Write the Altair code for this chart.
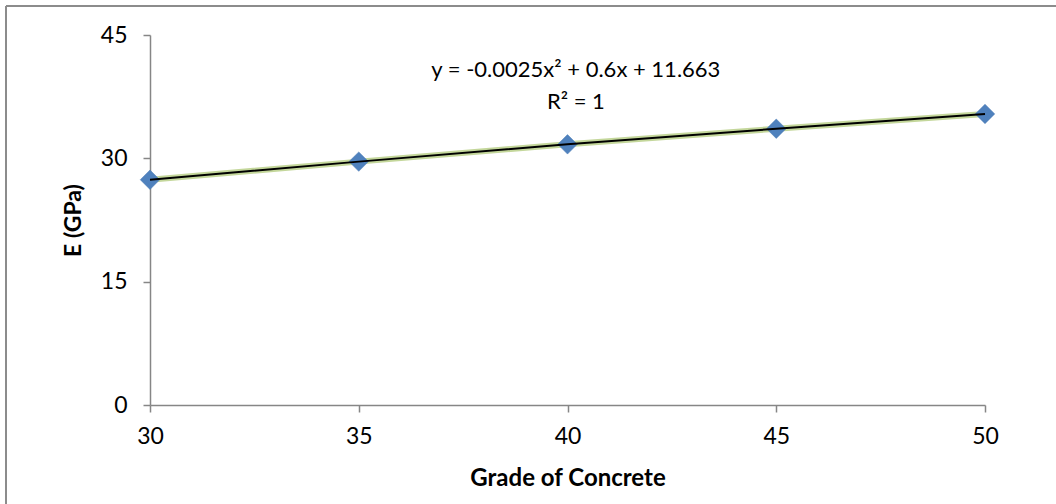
import altair as alt
import pandas as pd

grade = [30, 35, 40, 45, 50]
modulus = [27.4, 29.6, 31.7, 33.6, 35.4]
eq_lines = ["y = -0.0025x² + 0.6x + 11.663", "R² = 1"]
eq_x = [40.2, 40.2]
eq_y = [40.7, 36.9]

df = pd.DataFrame({"grade": grade, "E": modulus})
ann = pd.DataFrame({"t": eq_lines, "x": eq_x, "y": eq_y})

FONT = "Lato"
xs = alt.Scale(domain=[30, 50], nice=False, zero=False)
ys = alt.Scale(domain=[0, 45], nice=False)

xenc = alt.X("grade:Q", scale=xs, title="Grade of Concrete",
             axis=alt.Axis(values=[30, 35, 40, 45, 50], grid=False, domainColor="#868686",
                           tickColor="#868686", tickSize=7, labelFontSize=23, labelFont=FONT,
                           labelColor="#000", labelPadding=13, labelFlush=False,
                           titleFont=FONT, titleFontSize=24,
                           titleFontWeight="bold", titleColor="#000", titlePadding=18,
                           domainWidth=1.5, tickWidth=1.5))
yenc = alt.Y("E:Q", scale=ys, title="E (GPa)",
             axis=alt.Axis(values=[0, 15, 30, 45], grid=False, domainColor="#868686",
                           tickColor="#868686", tickSize=7, labelFontSize=23, labelFont=FONT,
                           labelColor="#000", labelPadding=16, labelFlush=False,
                           titleFont=FONT, titleFontSize=23,
                           titleFontWeight="bold", titleColor="#000", titlePadding=15,
                           domainWidth=1.5, tickWidth=1.5))

base = alt.Chart(df)
green = base.mark_line(color="#c4d79b", strokeWidth=6).encode(x=xenc, y=yenc)
pts = base.mark_point(shape="diamond", filled=True, size=380, color="#4f81bd", opacity=1,
                      stroke="#4a7ab5", strokeWidth=0.5).encode(x="grade:Q", y="E:Q")
black = base.mark_line(color="#000", strokeWidth=2).encode(x="grade:Q", y="E:Q")
text = alt.Chart(ann).mark_text(font=FONT, fontSize=22, color="#000").encode(
    x="x:Q", y="y:Q", text="t:N")

bdf = pd.DataFrame({"k": [0]})
bleft = alt.Chart(bdf).mark_rule(color="#8c8c8c", strokeWidth=2).encode(
    x=alt.value(-144), y=alt.value(-29), y2=alt.value(600))
btop = alt.Chart(bdf).mark_rule(color="#8c8c8c", strokeWidth=2).encode(
    y=alt.value(-29), x=alt.value(-144), x2=alt.value(1000))

chart = alt.layer(green, pts, black, text, bleft, btop).properties(
    width=835, height=370,
    autosize=alt.AutoSizeParams(type="none"),
    padding={"left": 150, "top": 35, "right": 71, "bottom": 99},
    background="white",
).configure_view(stroke=None)

chart.save("out.html", embed_options={"renderer": "svg", "actions": False})
